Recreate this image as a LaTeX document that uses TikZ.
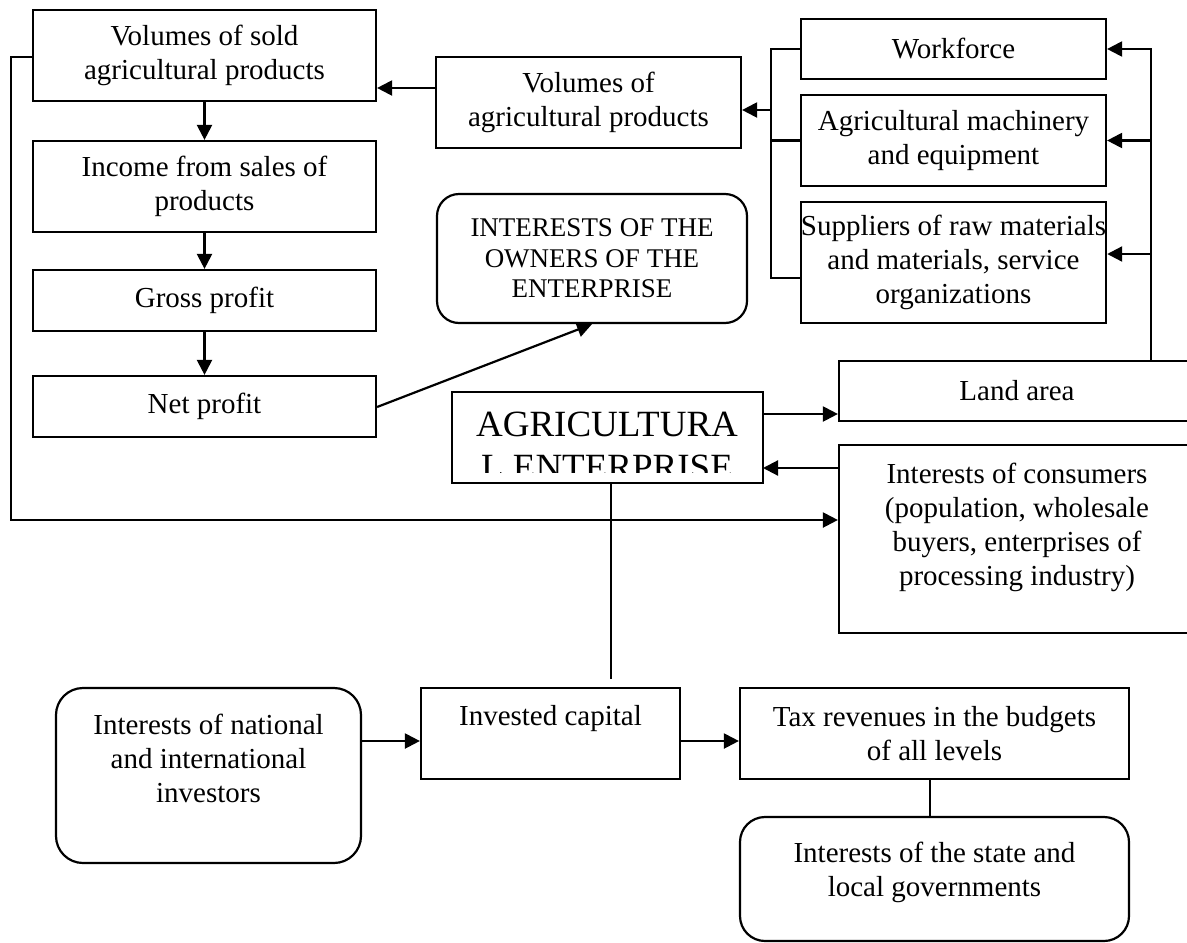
\documentclass[tikz,border=0pt]{standalone}
\usepackage{fontspec}
\setmainfont{Liberation Serif}
\usetikzlibrary{arrows.meta}

\newcommand\boxfont{\fontsize{29}{34}\selectfont}
\newcommand\capsfont{\fontsize{27}{30.5}\selectfont}
\newcommand\bigfont{\fontsize{37}{43}\selectfont}

\tikzset{
  box/.style={draw, line width=2.2pt, rectangle, inner sep=0pt, align=center, font=\boxfont},
  rbox/.style={box, rounded corners=22pt},
  txt/.style={inner sep=0pt, align=center, font=\boxfont},
  ln/.style={line width=2.2pt},
  arr/.style={line width=2.2pt, -{Triangle[length=15pt,width=15pt]}},
}

\begin{document}
\begin{tikzpicture}[x=1pt, y=-1pt]
\useasboundingbox (0,0) rectangle (1187,943);

% left column: sales chain
\node[box, minimum width=343pt, minimum height=91pt] (vs) at (204.5,55.5) {Volumes of sold\\agricultural products};
\node[box, minimum width=343pt, minimum height=91pt] (inc) at (204.5,186.5) {Income from sales of\\products};
\node[box, minimum width=343pt, minimum height=61pt] (gross) at (204.5,300.5) {Gross profit};
\node[box, minimum width=343pt, minimum height=61pt] (net) at (204.5,406.5) {Net profit};

% production and resources
\node[box, minimum width=305pt, minimum height=91pt] (va) at (588.5,102.5) {Volumes of\\agricultural products};
\node[box, minimum width=305pt, minimum height=60pt] (wf) at (953.5,49) {Workforce};
\node[box, minimum width=305pt, minimum height=91pt] (mach) at (953.5,140.5) {Agricultural machinery\\and equipment};
\node[box, minimum width=305pt, minimum height=121pt] (sup) at (953.5,262.5) {Suppliers of raw materials\\and materials, service\\organizations};

\node[rbox, minimum width=310pt, minimum height=129pt, font=\capsfont] (owners) at (592,258.5) {INTERESTS OF THE\\OWNERS OF THE\\ENTERPRISE};

% the enterprise (text overflows its frame and is cut off)
\node[box, minimum width=311pt, minimum height=91pt] (AE) at (607.5,437.5) {};
\begin{scope}
  \clip (452,392) rectangle (763,472);
  \node[txt, font=\bigfont] (AEtext) at (607,446) {AGRICULTURA\\L ENTERPRISE};
\end{scope}

\node[box, minimum width=356pt, minimum height=60pt] (land) at (1017,391) {Land area};
\node[box, minimum width=356pt, minimum height=188pt] (cons) at (1017,539) {};
\node[txt] (constext) at (1017,527) {Interests of consumers\\(population, wholesale\\buyers, enterprises of\\processing industry)};

% bottom row
\node[rbox, rounded corners=27pt, minimum width=305pt, minimum height=175pt] (inv) at (208.5,775.5) {};
\node[txt] (invtext) at (208.5,758) {Interests of national\\and international\\investors};
\node[box, minimum width=259pt, minimum height=91pt] (invc) at (550.5,733.5) {};
\node[txt] (invctext) at (550.5,719) {Invested capital};
\node[box, minimum width=389pt, minimum height=91pt] (tax) at (934.5,733.5) {Tax revenues in the budgets\\of all levels};
\node[rbox, rounded corners=25pt, minimum width=389pt, minimum height=124pt] (state) at (934.5,879) {};
\node[txt] (statetext) at (934.5,872) {Interests of the state and\\local governments};

% connectors of the left column
\draw[arr] (vs.south) -- (inc.north);
\draw[arr] (inc.south) -- (gross.north);
\draw[arr] (gross.south) -- (net.north);
\draw[arr] ([yshift=-0.5pt]net.east) -- (owners.south);
\draw[arr] ([yshift=14.5pt]va.west) -- ([yshift=14.5pt]va.west -| vs.east);

% left bus of the resources
\coordinate (lbTop) at (771,49);
\coordinate (lbBot) at (771,278);
\coordinate (lbOut) at (771,110);
\draw[ln] (wf.west) -- (lbTop) -- (lbBot) -- (lbBot -| sup.west);
\draw[ln] (mach.west) -- (mach.west -| lbTop);
\draw[arr] (lbOut) -- (lbOut -| va.east);

% right bus from the land area
\coordinate (rbTop) at (1151,49);
\coordinate (rbSup) at (1151,254);
\draw[arr] (land.north -| rbTop) -- (rbTop) -- (wf.east);
\draw[arr] (mach.east -| rbTop) -- (mach.east);
\draw[arr] (rbSup) -- (rbSup -| sup.east);

% enterprise links
\coordinate (aeLand) at (763,414);
\coordinate (aeCons) at (763,468);
\draw[arr] (aeLand) -- (aeLand -| land.west);
\draw[arr] (aeCons -| cons.west) -- (aeCons);

% loop from sold volumes to the consumers
\coordinate (loopTop) at (11,57);
\coordinate (loopBot) at (11,520);
\draw[arr] (loopTop -| vs.west) -- (loopTop) -- (loopBot) -- (loopBot -| cons.west);

% enterprise down to invested capital
\draw[ln, shorten >=8pt] ([xshift=3.5pt]AE.south) -- ([xshift=3.5pt]AE.south |- invc.north);

% bottom row links
\coordinate (rowY) at (0,741);
\draw[arr] (rowY -| inv.east) -- (rowY -| invc.west);
\draw[arr] (rowY -| invc.east) -- (rowY -| tax.west);
\draw[ln] ([xshift=-4.5pt]tax.south) -- ([xshift=-4.5pt]tax.south |- state.north);
\end{tikzpicture}
\end{document}
